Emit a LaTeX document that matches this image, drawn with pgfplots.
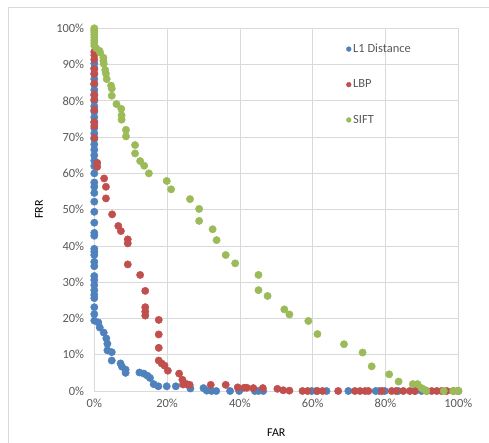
\documentclass[border=0pt]{standalone}
\usepackage{fontspec}
\setmainfont{Carlito}
\usepackage{pgfplots}
\pgfplotsset{compat=1.18}
\definecolor{lblue}{HTML}{4F81BD}
\definecolor{lred}{HTML}{C0504D}
\definecolor{lgreen}{HTML}{9BBB59}
\definecolor{gridc}{HTML}{D9D9D9}
\definecolor{txt}{HTML}{595959}
\begin{document}
\fontsize{12}{14}\selectfont
\begin{tikzpicture}[x=1bp,y=1bp]
\useasboundingbox (-94.3,-52) rectangle (394.7,391);
\draw[gridc, line width=0.75bp] (-86.3,-60) -- (-86.3,384) -- (400,384);
\begin{axis}[
  at={(0,0)}, anchor=origin,
  scale only axis, width=364bp, height=362.7bp,
  xmin=0, xmax=100, ymin=0, ymax=100,
  xtick={0,20,40,60,80,100},
  xticklabels={0\%,20\%,40\%,60\%,80\%,100\%},
  ytick={0,10,20,30,40,50,60,70,80,90,100},
  yticklabels={0\%,10\%,20\%,30\%,40\%,50\%,60\%,70\%,80\%,90\%,100\%},
  major tick length=0pt,
  grid=major,
  major grid style={gridc, line width=0.75bp},
  axis line style={draw=none},
  axis x line*=bottom, axis y line*=left,
  tick label style={font=\fontsize{12.5}{14}\selectfont, text=txt},
  every x tick label/.append style={yshift=-4bp},
  every y tick label/.append style={xshift=-6bp},
  xlabel={FAR}, ylabel={FRR},
  label style={font=\fontsize{12.5}{14}\selectfont, text=txt},
  every axis x label/.style={at={(axis description cs:0.5,-0.116)}, anchor=center},
  every axis y label/.style={at={(axis description cs:-0.152,0.5)}, anchor=center, rotate=90},
  legend style={draw=none, fill=none, at={(0.692,0.963)}, anchor=north west,
    font=\fontsize{12.5}{14}\selectfont, text=txt, row sep=21.5bp, inner sep=0pt},
  legend cell align=left,
  legend image code/.code={\draw[#1, mark size=2.4bp] plot coordinates {(0.12cm,0cm)};},
  every axis plot/.append style={only marks, mark=*, mark size=3.7bp},
  clip=false,
]
\addplot[color=lblue, mark options={draw=lblue, fill=lblue}] coordinates {
(0,90.3)(0,89)(0,87.5)(0,86)(0,84.5)(0,83)(0,81.5)(0,80)(0,78.5)(0,77)(0,75.5)(0,74)(0,72.5)(0,71)(0,69.5)(0,68)(0,66.5)(0,65)(0,63.5)(0,62)
(0,60)(0,57.5)(0,56.3)(0,54.6)(0,52.2)(0,49.4)(0,46.4)(0,43.6)(0,42.8)(0,39.2)(0,38.4)(0,37.5)(0,35.6)(0,34.4)(0,31.7)(0,30.6)(0,29.2)(0,27.8)(0,26.5)(0,25.6)(0,23.1)(0,21.2)(0,19.4)
(1.1,18.9)(1.5,17.5)(2.6,16.1)(3.3,14.5)(3.6,13)(3.6,11.2)(4.8,10.7)(4.8,8.4)(7.2,7.6)(7.6,6.7)(8.6,5.9)(8.6,5.0)(12.4,5.1)(13.6,4.8)(14.6,4.2)(15.3,3.6)(16.3,1.9)(17.6,1.3)(19.9,1.3)(22.4,1.3)(26.4,0.7)(30,0.8)(30.9,0.1)(32.2,0)(33.5,0)(37.3,0)(39.8,0)(44.1,0)(45.1,0)(46.4,0)(59.7,0)(61,0)(63.8,0)(69.8,0)(77.3,0)(78.3,0)(79.8,0)(83.5,0)(88.1,0)(89.9,0)(100,0)
};
\addlegendentry{L1 Distance}
\addplot[color=lred, mark options={draw=lred, fill=lred}] coordinates {
(0,93.5)(0,92.6)(0,91.4)(0,88.8)(0,87.4)(0,84.8)(0,81.8)(0,80.4)(0,77.5)(0,74.2)(0,73.1)(0,69.8)(0.8,62.9)(0.8,61.8)(2.7,58.6)(3.2,56.3)(3.2,53.1)(4.9,48.7)(6.6,45.5)(7.3,44.1)(9.2,41.8)(9.2,40.7)(9.2,34.9)(12.6,32)(14,27.6)(14,23.1)(14,21.9)(14,20.8)(17.7,19.6)(17.7,15.6)(17.7,11.9)(17.7,8.4)(18.5,7.6)(19.3,7)(20.2,5.6)(23.3,4.8)(24.2,3.1)(24.4,1.8)(25.4,1.9)(26.2,1.7)(32,1.7)(36.1,1.7)(39.4,1.0)(41.2,0.9)(41.9,0.9)(43.7,0.8)(46.3,0.8)(50.3,0.6)(51.9,0.2)(53.6,0.1)(57.2,0)(58.6,0)(61.3,0)(62.7,0)(67,0)(71.6,0)(73,0)(74.4,0)(75.3,0)(79,0)(81.7,0)(82.9,0)(84.9,0)(86.7,0)(88.1,0)(91.3,0)(92.7,0)(94.1,0)(95.4,0)(96.8,0)(98.6,0)(100,0)
};
\addlegendentry{LBP}
\addplot[color=lgreen, mark options={draw=lgreen, fill=lgreen}] coordinates {
(0,100)(0,99.5)(0,99)(0,98.3)(0,97.5)(0,96.7)(0,96)(0,95.2)(0.5,94.5)(1.4,93.8)(1.6,93.3)(2.5,91.9)(2.5,91)(2.6,90.2)(3,88.5)(3.2,87.5)(3.4,86)(4.6,84.2)(4.8,83.4)(4.8,81.4)(6.1,79.1)(7.4,77.8)(7.5,76)(7.5,74.8)(8.7,72)(8.7,70.2)(11.2,67.8)(11.2,65.5)(12.6,63.4)(13.7,62.1)(15,60)(19.9,57.9)(21.1,55.6)(26.3,52.9)(28.8,50.2)(28.8,46.9)(32.5,44.6)(33.6,41.6)(36.1,37.5)(38.7,35.2)(45.1,32)(45.1,27.8)(47.6,26.2)(52.2,22.5)(53.6,21.1)(58.8,19.3)(61.3,15.7)(68.6,12.9)(73.7,10.6)(76.2,6.8)(81,4.6)(83.6,2.6)(87.5,1.9)(88.8,1.9)(89.9,0.8)(90.6,0.4)(91.2,0)(96,0)(98.6,0)(99.6,0)(100,0)
};
\addlegendentry{SIFT}
\end{axis}
\end{tikzpicture}
\end{document}
